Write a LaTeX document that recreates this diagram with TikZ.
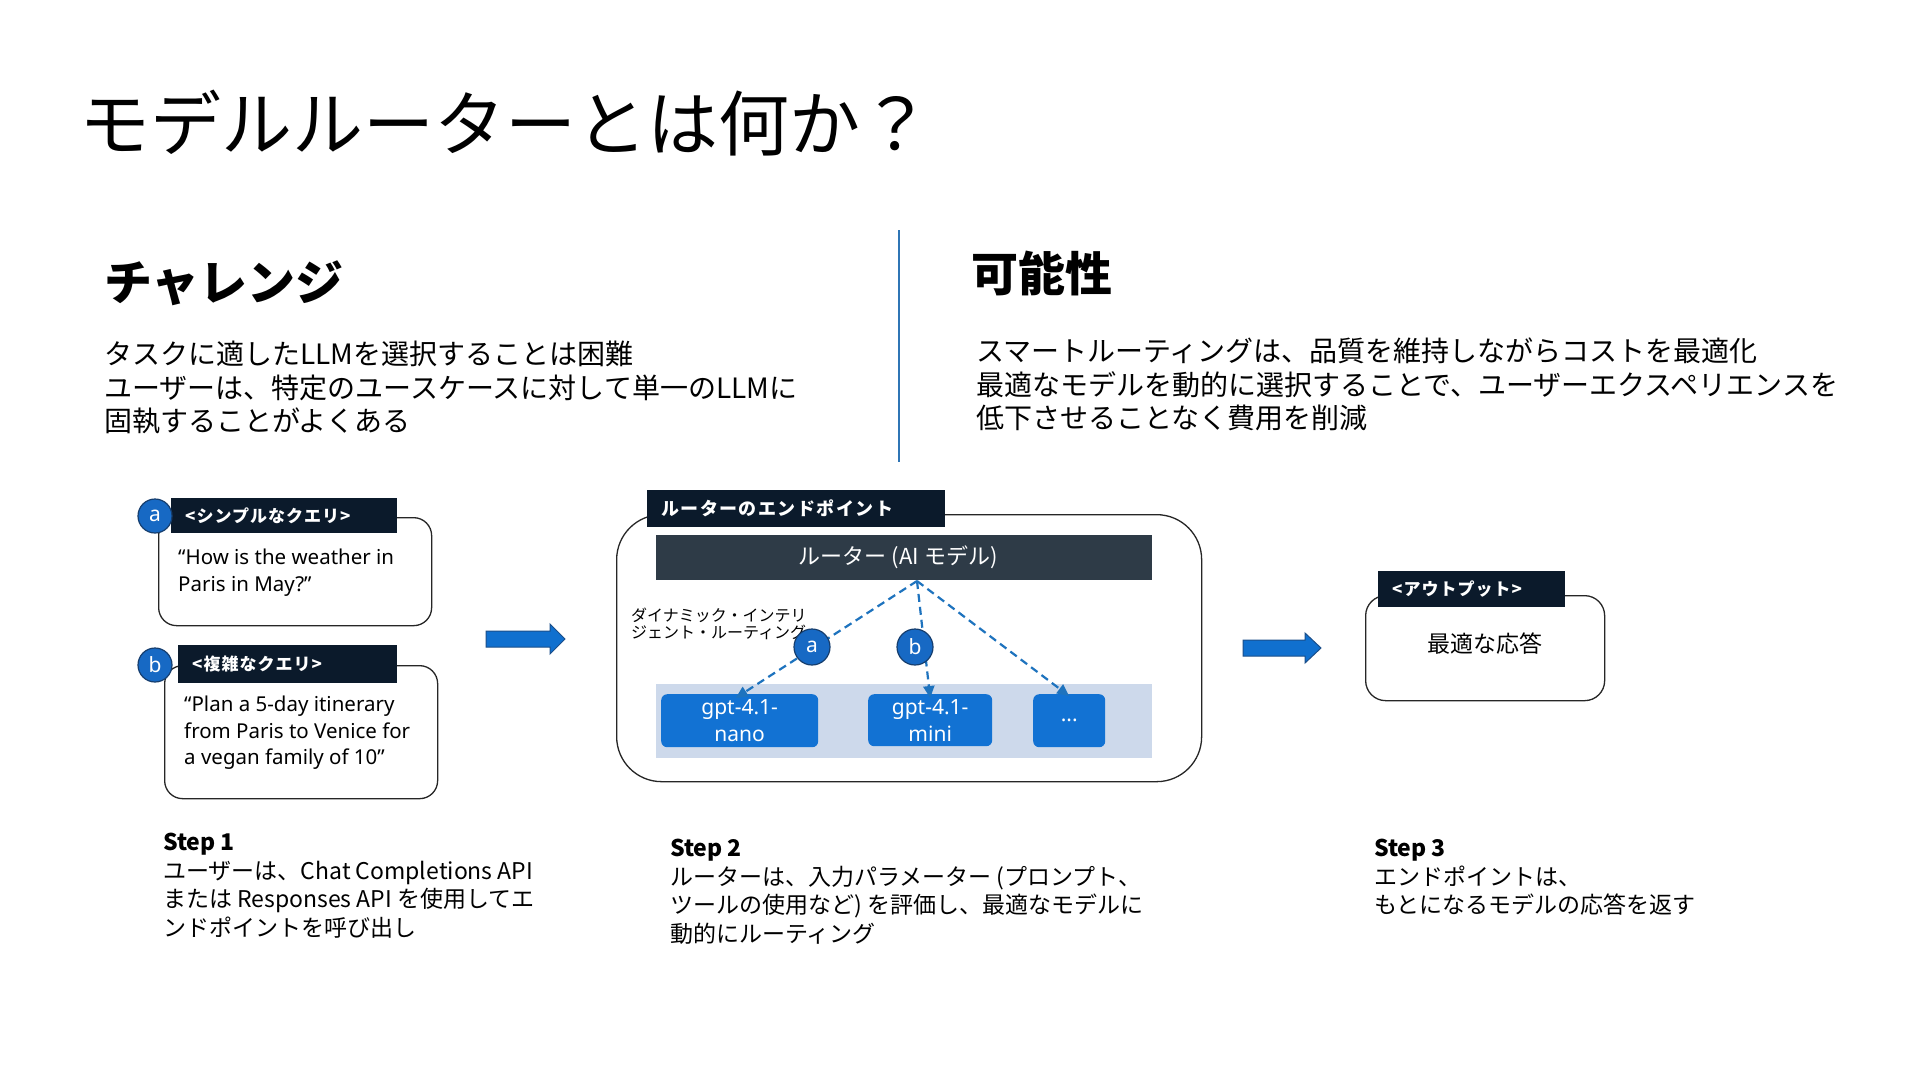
\documentclass[tikz,border=0pt]{standalone}
\usepackage{fontspec}
\setmainfont{Noto Sans CJK JP}
\newfontfamily\lat{Noto Sans}
\usetikzlibrary{arrows.meta}
\definecolor{navy}{HTML}{0B1A2B}
\definecolor{routerc}{HTML}{2E3B47}
\definecolor{mblue}{HTML}{1272D3}
\definecolor{cblue}{HTML}{1769C4}
\definecolor{cedge}{HTML}{163E6E}
\definecolor{panelc}{HTML}{CDD9EB}
\definecolor{dashc}{HTML}{1E73BE}
\definecolor{arrowc}{HTML}{1070CF}
\definecolor{arrowe}{HTML}{1B4F8A}
\definecolor{vlinec}{HTML}{2F75B5}
\newcommand\setfs[2]{\fontsize{#1}{#2}\selectfont}
\begin{document}
\begin{tikzpicture}[x=1pt,y=-1pt,
  txt/.style={inner sep=0pt, align=left, anchor=north west},
  body/.style={txt, font=\setfs{28}{33.5}},
  steptxt/.style={txt, font=\setfs{23}{28.5}},
  qtxt/.style={txt, font=\lat\setfs{20.5}{26.5}},
  qbox/.style={draw=black!85, line width=1.3pt, rounded corners=18pt, anchor=north west, inner sep=0pt, fill=white},
  hdr/.style={fill=navy, anchor=north west, inner xsep=14pt, inner ysep=0pt, text=white, align=left,
    font=\setfs{17}{20}\bfseries\addfontfeatures{LetterSpace=6}},
  circ/.style={circle, fill=cblue, draw=cedge, line width=1.2pt, minimum size=34pt, inner sep=0pt, text=white, font=\lat\setfs{21}{24}},
  model/.style={fill=mblue, rounded corners=6pt, anchor=north west, inner sep=0pt, text=white, align=center, font=\lat\setfs{21}{27.5}},
  dasharr/.style={draw=dashc, line width=2.2pt, dash pattern=on 8pt off 5pt, -{Triangle[length=12pt,width=11pt]}},
  blockarr/.style={fill=arrowc, draw=arrowe, line width=1pt},
]
\useasboundingbox (0,0) rectangle (1920,1080);
\fill[white] (0,0) rectangle (1920,1080);

% title
\node[txt, font=\setfs{71}{75}] (title) at (79,90) {モデルルーターとは何か？};

% left column
\node[txt, font=\setfs{48}{52}\bfseries] (chal) at (104,260) {チャレンジ};
\node[body] (chalbody) at (104,341) {タスクに適したLLMを選択することは困難\\ユーザーは、特定のユースケースに対して単一のLLMに\\固執することがよくある};

% separator
\coordinate (vtop) at (899,230);
\coordinate (vbot) at (899,462);
\draw[vlinec, line width=2pt] (vtop) -- (vbot);

% right column
\node[txt, font=\setfs{47}{52}\bfseries] (poss) at (971,251) {可能性};
\node[body] (possbody) at (976,338) {スマートルーティングは、品質を維持しながらコストを最適化\\最適なモデルを動的に選択することで、ユーザーエクスペリエンスを\\低下させることなく費用を削減};

% query a
\node[qbox, minimum width=273pt, minimum height=108pt] (qa) at (158,517) {};
\node[hdr, text width=198pt, minimum height=35pt] (qahdr) at (171,498) {<シンプルなクエリ>};
\node[circ] (ca) at (155,516) {a};
\node[qtxt] (qatext) at (178,549) {“How is the weather in\\Paris in May?”};

% query b
\node[qbox, minimum width=273pt, minimum height=133pt] (qb) at (164,665) {};
\node[hdr, text width=191pt, minimum height=38pt] (qbhdr) at (178,645) {<複雑なクエリ>};
\node[circ] (cb) at (155,665) {b};
\node[qtxt] (qbtext) at (184,696) {“Plan a 5-day itinerary\\from Paris to Venice for\\a vegan family of 10”};

% arrow 1
\coordinate (a1) at (486,639);
\draw[blockarr] (a1) ++(0,-8) -- ++(64,0) -- ++(0,-7) -- (565,639) -- (550,654) -- ++(0,-7) -- ++(-64,0) -- cycle;

% endpoint
\node[qbox, rounded corners=45pt, minimum width=585pt, minimum height=267pt] (ep) at (616,514) {};
\node[hdr, text width=270pt, minimum height=37pt, font=\setfs{18}{20}\bfseries\addfontfeatures{LetterSpace=8}] (ephdr) at (647,490) {ルーターのエンドポイント};
\node[fill=routerc, anchor=north west, minimum width=496pt, minimum height=45pt, inner sep=0pt, text=white, font=\setfs{22}{24}] (router) at (656,535) {ルーター (AI モデル)\hspace*{12pt}};
\node[txt, font=\setfs{16}{17}] (dyn) at (631,608) {ダイナミック・インテリ\\ジェント・ルーティング};
\node[fill=panelc, anchor=north west, minimum width=496pt, minimum height=74pt, inner sep=0pt] (panel) at (656,684) {};
\node[model, minimum width=157pt, minimum height=53pt] (nano) at (661,694) {gpt-4.1-\\nano};
\node[model, minimum width=124pt, minimum height=52pt] (mini) at (868,694) {gpt-4.1-\\mini};
\node[model, minimum width=72pt, minimum height=53pt] (dots) at (1033,694) {...};
\coordinate (rsrc) at (917,581);
\draw[dasharr] (rsrc) -- ([xshift=-4pt,yshift=-4pt]nano.north);
\draw[dasharr] (rsrc) -- ([yshift=-4pt]mini.north);
\draw[dasharr] (rsrc) -- ([yshift=-2pt]dots.north);
\node[circ, minimum size=36pt] (ra) at (812,647) {a};
\node[circ, minimum size=36pt] (rb) at (915,647) {b};

% arrow 2
\coordinate (a2) at (1243,648);
\draw[blockarr] (a2) ++(0,-8) -- ++(62,0) -- ++(0,-7) -- (1321,648) -- (1305,663) -- ++(0,-7) -- ++(-62,0) -- cycle;

% output
\node[qbox, rounded corners=20pt, minimum width=239pt, minimum height=105pt] (out) at (1365,595) {};
\node[hdr, text width=159pt, minimum height=36pt] (outhdr) at (1378,571) {<アウトプット>};
\node[font=\setfs{23}{26}, inner sep=0pt] (outtext) at (1485,644) {最適な応答};

% steps
\node[steptxt] (s1) at (163,833) {\textbf{Step 1}\\ユーザーは、Chat Completions API\\または Responses API を使用してエ\\ンドポイントを呼び出し};
\node[steptxt] (s2) at (670,839) {\textbf{Step 2}\\ルーターは、入力パラメーター (プロンプト、\\ツールの使用など) を評価し、最適なモデルに\\動的にルーティング};
\node[steptxt] (s3) at (1374,839) {\textbf{Step 3}\\エンドポイントは、\\もとになるモデルの応答を返す};
\end{tikzpicture}
\end{document}
